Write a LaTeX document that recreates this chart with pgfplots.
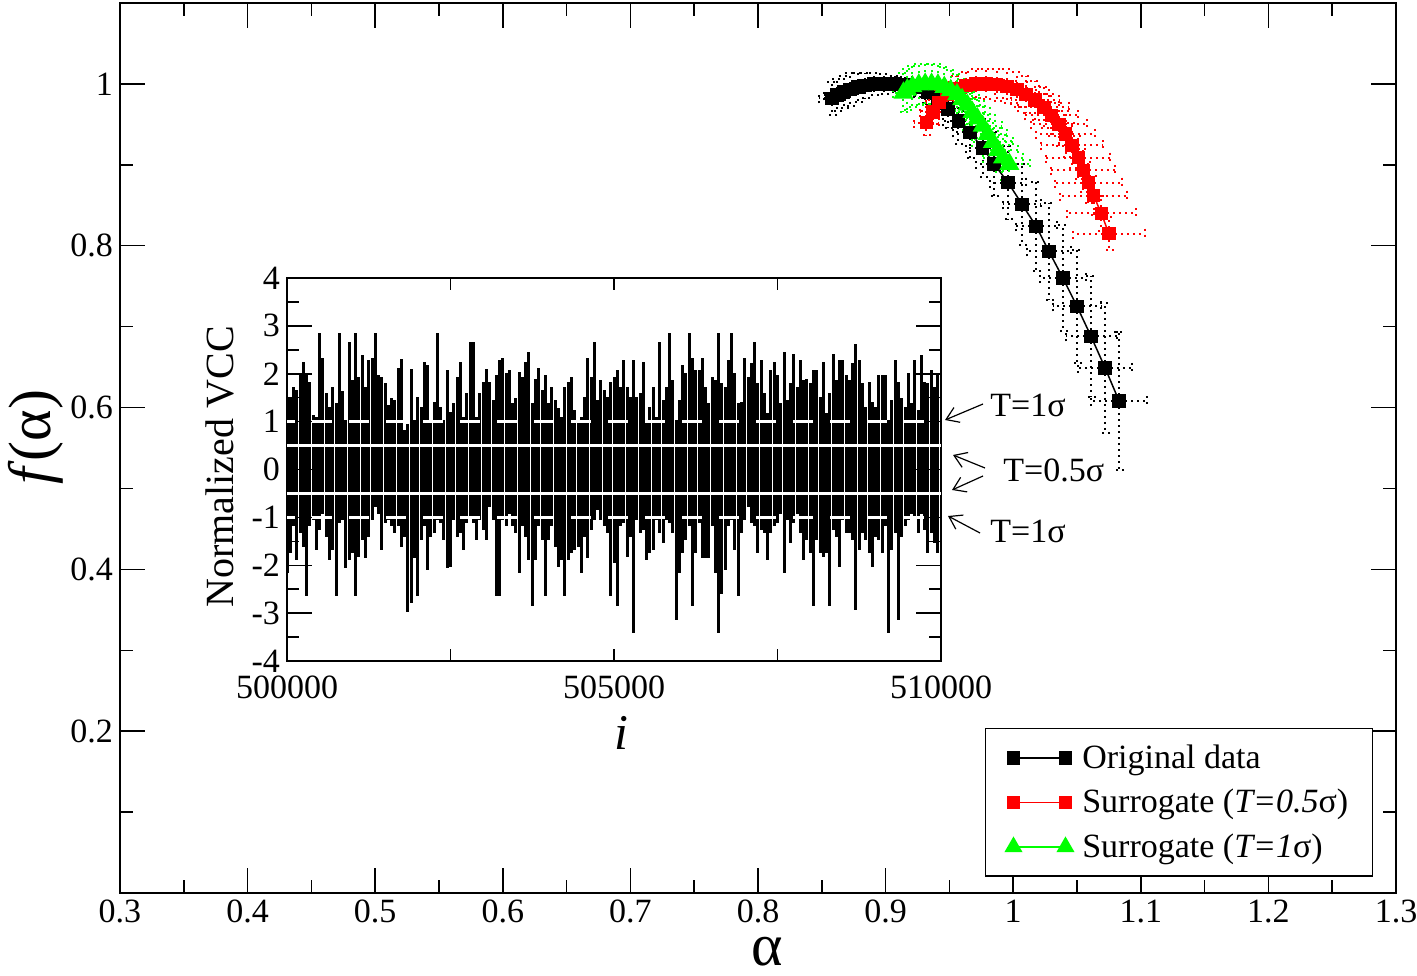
\documentclass[border=0pt]{standalone}
\usepackage{fontspec}
\setmainfont{Liberation Serif}
\usepackage{pgfplots}
\pgfplotsset{compat=1.18}
\usepackage{pgfplotstable}
\usetikzlibrary{arrows.meta}

\newcommand\tickfont{\fontsize{17}{20}\selectfont}

% multifractal spectra: alpha, f(alpha), errors
\pgfplotstableread{
a f ea ef
0.858 0.982 0.010 0.020
0.862 0.986 0.010 0.020
0.867 0.990 0.010 0.020
0.872 0.993 0.010 0.020
0.878 0.996 0.010 0.018
0.884 0.998 0.010 0.016
0.891 1.000 0.010 0.014
0.899 1.000 0.010 0.012
0.907 1.000 0.010 0.010
0.915 0.999 0.010 0.010
0.924 0.996 0.010 0.012
0.933 0.990 0.010 0.015
0.941 0.981 0.012 0.020
0.949 0.969 0.012 0.024
0.957 0.954 0.012 0.028
0.966 0.940 0.013 0.032
0.976 0.921 0.013 0.036
0.985 0.901 0.014 0.040
0.996 0.878 0.014 0.045
1.007 0.851 0.015 0.050
1.018 0.824 0.016 0.055
1.028 0.793 0.017 0.060
1.039 0.760 0.018 0.065
1.050 0.725 0.019 0.070
1.061 0.688 0.020 0.075
1.072 0.649 0.021 0.080
1.083 0.608 0.022 0.085
}\orig

\pgfplotstableread{
a f ea ef
0.932 0.952 0.010 0.015
0.937 0.965 0.010 0.015
0.942 0.977 0.010 0.015
0.948 0.987 0.011 0.015
0.955 0.994 0.012 0.016
0.963 0.998 0.012 0.017
0.971 1.000 0.013 0.018
0.979 1.000 0.014 0.019
0.987 0.999 0.015 0.020
0.995 0.997 0.016 0.021
1.003 0.993 0.017 0.022
1.010 0.987 0.018 0.023
1.017 0.980 0.019 0.024
1.024 0.971 0.020 0.025
1.030 0.961 0.021 0.026
1.036 0.950 0.022 0.027
1.041 0.938 0.023 0.028
1.046 0.924 0.024 0.028
1.051 0.909 0.025 0.027
1.055 0.893 0.025 0.026
1.059 0.878 0.026 0.025
1.063 0.862 0.026 0.024
1.069 0.840 0.027 0.022
1.075 0.815 0.028 0.020
}\surhalf

\pgfplotstableread{
a f ea ef
0.914 0.989 0.008 0.024
0.917 0.993 0.008 0.025
0.921 0.997 0.008 0.025
0.926 0.999 0.009 0.025
0.931 1.000 0.009 0.025
0.936 1.000 0.009 0.025
0.941 0.999 0.010 0.025
0.946 0.996 0.010 0.025
0.951 0.992 0.011 0.025
0.956 0.987 0.012 0.025
0.960 0.981 0.013 0.025
0.964 0.974 0.013 0.025
0.968 0.965 0.014 0.025
0.972 0.957 0.014 0.025
0.976 0.948 0.015 0.025
0.980 0.938 0.015 0.025
0.984 0.928 0.016 0.026
0.988 0.918 0.016 0.027
0.992 0.909 0.016 0.028
0.997 0.901 0.016 0.028
}\surone

% normalized VCC: upper and lower excursion per 50-sample block
\pgfplotstableread{
i up lo
500000 1.52 -2.17
500050 1.52 -1.75
500100 1.73 -1.19
500150 1.66 -1.89
500200 2.01 -1.33
500250 2.25 -1.61
500300 2.01 -2.65
500350 1.83 -1.19
500400 1.14 -1.05
500450 1.10 -1.68
500500 2.86 -1.26
500550 2.32 -0.92
500600 1.59 -1.40
500650 1.31 -1.89
500700 1.73 -1.68
500750 1.38 -2.65
500800 2.86 -1.12
500850 1.63 -1.05
500900 1.03 -2.06
500950 2.67 -1.89
501000 1.87 -1.75
501050 2.86 -2.65
501100 1.94 -1.82
501150 2.39 -1.47
501200 1.73 -1.85
501250 2.29 -1.40
501300 2.32 -1.05
501350 2.86 -0.78
501400 1.97 -0.92
501450 1.94 -1.68
501500 1.80 -1.12
501550 1.35 -1.05
501600 1.49 -1.19
501650 1.45 -1.33
501700 2.11 -1.19
501750 2.30 -1.61
501800 0.82 -1.40
501850 0.96 -2.97
501900 2.09 -2.79
501950 1.03 -1.85
502000 1.52 -2.65
502050 1.31 -1.47
502100 2.25 -1.19
502150 2.18 -2.10
502200 1.03 -1.40
502250 1.42 -1.33
502300 2.86 -1.05
502350 1.31 -1.12
502400 1.03 -1.47
502450 2.08 -2.06
502500 1.20 -2.03
502550 1.38 -1.05
502600 1.94 -1.40
502650 2.25 -1.33
502700 1.10 -1.68
502750 1.59 -1.12
502800 2.67 -0.98
502850 2.67 -1.12
502900 1.10 -1.47
502950 1.59 -1.05
503000 1.83 -1.26
503050 2.09 -1.47
503100 1.83 -0.78
503150 1.45 -1.05
503200 1.97 -2.65
503250 2.29 -2.65
503300 2.32 -1.05
503350 2.01 -1.19
503400 2.08 -0.92
503450 1.38 -1.19
503500 1.49 -1.33
503550 2.04 -2.17
503600 1.94 -1.19
503650 2.25 -1.40
503700 2.45 -1.89
503750 1.38 -2.86
503800 1.90 -1.89
503850 2.11 -1.19
503900 1.66 -1.47
503950 1.97 -2.65
504000 1.38 -1.47
504050 1.73 -1.19
504100 1.45 -1.61
504150 1.28 -2.03
504200 1.10 -1.89
504250 1.73 -2.65
504300 1.83 -1.89
504350 1.94 -1.75
504400 1.24 -1.68
504450 1.03 -1.61
504500 1.10 -2.17
504550 1.52 -1.40
504600 2.32 -1.85
504650 1.94 -1.26
504700 2.67 -1.05
504750 1.45 -0.85
504800 1.87 -1.05
504850 1.66 -1.19
504900 1.52 -1.33
504950 1.83 -2.65
505000 1.94 -1.96
505050 2.08 -2.86
505100 1.73 -1.19
505150 2.29 -1.12
505200 1.73 -1.82
505250 1.52 -1.40
505300 2.29 -3.42
505350 1.52 -1.05
505400 1.59 -1.33
505450 2.25 -1.26
505500 1.03 -1.89
505550 1.31 -1.75
505600 1.73 -1.68
505650 1.10 -1.05
505700 2.67 -1.33
505750 1.45 -1.54
505800 1.73 -1.05
505850 2.86 -1.12
505900 1.87 -1.33
505950 1.03 -3.14
506000 1.45 -2.17
506050 2.18 -1.75
506100 2.01 -1.47
506150 2.86 -1.19
506200 2.32 -2.86
506250 2.08 -1.75
506300 2.08 -1.12
506350 2.32 -1.85
506400 1.73 -1.85
506450 1.38 -1.85
506500 1.94 -1.19
506550 1.87 -2.17
506600 2.86 -3.42
506650 1.80 -2.60
506700 1.73 -2.10
506750 2.29 -1.19
506800 2.86 -1.05
506850 2.01 -1.68
506900 1.38 -2.65
506950 1.42 -1.33
507000 2.32 -1.05
507050 1.94 -0.78
507100 2.22 -1.12
507150 2.67 -1.19
507200 1.80 -1.75
507250 2.29 -1.26
507300 1.59 -1.33
507350 1.17 -1.89
507400 2.08 -1.33
507450 2.25 -1.19
507500 1.97 -1.12
507550 1.38 -0.92
507600 2.46 -2.17
507650 1.45 -1.05
507700 1.80 -1.54
507750 2.42 -1.12
507800 1.73 -0.92
507850 2.29 -1.33
507900 1.87 -1.89
507950 1.90 -1.47
508000 1.80 -1.75
508050 2.08 -2.86
508100 2.08 -1.47
508150 1.52 -1.75
508200 2.25 -1.82
508250 1.17 -1.75
508300 1.59 -2.86
508350 2.42 -1.26
508400 1.87 -1.40
508450 2.29 -2.03
508500 2.29 -1.05
508550 1.97 -1.33
508600 1.87 -1.33
508650 2.22 -1.47
508700 2.63 -2.93
508750 2.29 -1.68
508800 1.80 -1.33
508850 1.31 -1.47
508900 1.83 -1.75
508950 1.42 -2.03
509000 1.31 -1.40
509050 1.97 -1.47
509100 1.97 -1.75
509150 1.97 -1.19
509200 1.03 -3.42
509250 1.45 -1.68
509300 2.29 -1.33
509350 1.83 -3.14
509400 1.49 -1.40
509450 1.31 -1.19
509500 2.01 -1.05
509550 1.38 -0.92
509600 2.29 -0.98
509650 1.24 -1.33
509700 2.39 -0.92
509750 1.83 -1.26
509800 1.80 -1.75
509850 2.08 -1.33
509900 1.73 -1.54
509950 2.01 -1.75
}\vcc

\pgfplotsset{
  dotbars/.style={
    error bars/.cd,
      x dir=both, x explicit, y dir=both, y explicit,
      error bar style={#1, line width=1pt, dash pattern=on 1pt off 2pt},
      error mark options={rotate=90, mark size=2.5pt, #1, line width=1pt, dash pattern=on 1pt off 2pt}
  }
}

\begin{document}
\begin{tikzpicture}
\begin{axis}[
  at={(0pt,0pt)}, anchor=south west,
  scale only axis, width=638pt, height=445pt,
  xmin=0.3, xmax=1.3, ymin=0, ymax=1.1,
  xtick={0.3,0.4,0.5,0.6,0.7,0.8,0.9,1,1.1,1.2,1.3},
  minor xtick={0.35,0.45,0.55,0.65,0.75,0.85,0.95,1.05,1.15,1.25},
  ytick={0.2,0.4,0.6,0.8,1},
  minor ytick={0.1,0.3,0.5,0.7,0.9},
  tick align=inside,
  major tick length=12.5pt, minor tick length=6.5pt,
  tick style={black, line width=0.75pt},
  axis line style={line width=1pt},
  tick label style={font=\tickfont},
  /pgf/number format/assume math mode=true,
  xlabel={α}, ylabel={\textit{f}(α)},
  xlabel style={font=\fontsize{30}{34}\selectfont, inner sep=0pt, at={(axis description cs:0.507,-0.066)}, anchor=center},
  ylabel style={font=\fontsize{30}{34}\selectfont, inner sep=0pt, at={(axis description cs:-0.066,0.512)}, anchor=center},
  legend image code/.code={\draw[mark repeat=2, mark phase=1, #1] plot coordinates {(0pt,0pt) (13pt,0pt) (26pt,0pt)};},
  legend cell align=left,
  legend style={at={(rel axis cs:0.982,0.018)}, anchor=south east, draw=black, line width=0.75pt,
    fill=white, font=\tickfont, inner xsep=10pt, inner ysep=6pt, row sep=5pt, column sep=2.5pt},
]
\addlegendimage{black, line width=0.75pt, mark=square*, mark size=3pt, mark options={solid}}
\addlegendentry{Original data}
\addlegendimage{red, line width=0.75pt, mark=square*, mark size=3pt, mark options={solid}}
\addlegendentry{Surrogate (\textit{T=0.5}σ)}
\addlegendimage{green, line width=0.75pt, mark=triangle*, mark size=4.5pt, mark options={solid}}
\addlegendentry{Surrogate (\textit{T=1}σ)}

\addplot[forget plot, black, line width=0.75pt, mark=square*, mark size=3pt, mark options={solid},
  dotbars=black] table[x=a, y=f, x error=ea, y error=ef] {\orig};
\addplot[forget plot, red, line width=0.75pt, mark=square*, mark size=3pt, mark options={solid},
  dotbars=red] table[x=a, y=f, x error=ea, y error=ef] {\surhalf};
\addplot[forget plot, green, line width=0.75pt, mark=triangle*, mark size=5pt, mark options={solid},
  dotbars=green] table[x=a, y=f, x error=ea, y error=ef] {\surone};
\end{axis}

\begin{axis}[
  at={(83.5pt,116pt)}, anchor=south west,
  scale only axis, width=327pt, height=191.5pt,
  xmin=500000, xmax=510000, ymin=-4, ymax=4,
  axis background/.style={fill=white},
  xtick={500000,505000,510000}, xticklabels={500000,505000,510000},
  scaled x ticks=false,
  minor xtick={500000,502500,505000,507500,510000},
  major x tick style={draw=none},
  ytick={-4,-3,-2,-1,0,1,2,3,4}, minor y tick num=1,
  tick align=inside,
  major tick length=12.5pt, minor tick length=6pt,
  tick style={black, line width=0.75pt},
  axis line style={line width=1pt},
  tick label style={font=\tickfont},
  xticklabel style={yshift=-4pt},
  /pgf/number format/assume math mode=true,
  xlabel={\textit{i}}, ylabel={Normalized VCC},
  xlabel style={font=\fontsize{25}{30}\selectfont, at={(axis description cs:0.512,-0.188)}, anchor=center},
  ylabel style={font=\fontsize{20}{24}\selectfont, at={(axis description cs:-0.1024,0.507)}, anchor=center},
]
\addplot[black, ycomb, line width=1.5pt, mark=none] table[x=i, y=up] {\vcc};
\addplot[black, ycomb, line width=1.5pt, mark=none] table[x=i, y=lo] {\vcc};
% threshold levels
\addplot[white, line width=1.5pt] coordinates {(500000,0.5) (510000,0.5)};
\addplot[white, line width=1.5pt] coordinates {(500000,-0.5) (510000,-0.5)};
\addplot[white, line width=1.6pt, dash pattern=on 10pt off 8.5pt, dash phase=6pt] coordinates {(500000,1) (510000,1)};
\addplot[white, line width=1.6pt, dash pattern=on 10pt off 8.5pt, dash phase=6pt] coordinates {(500000,-1) (510000,-1)};
\end{axis}

% threshold annotations
\begin{scope}[line width=0.6pt, -{Straight Barb[length=6pt, width=8pt]}]
\draw (431.5pt,244.5pt) -- (412.5pt,236.5pt);
\draw (432.5pt,212.5pt) -- (416.5pt,219pt);
\draw (431.5pt,208.5pt) -- (416pt,201.5pt);
\draw (430pt,180pt) -- (414pt,188.5pt);
\end{scope}
\node[anchor=west, inner sep=0pt, font=\tickfont] at (435pt,244pt) {T=1σ};
\node[anchor=west, inner sep=0pt, font=\tickfont] at (441.5pt,211.5pt) {T=0.5σ};
\node[anchor=west, inner sep=0pt, font=\tickfont] at (435pt,181pt) {T=1σ};

\pgfresetboundingbox
\path[use as bounding box] (-60pt,-41pt) rectangle (648.5pt,446.5pt);
\end{tikzpicture}
\end{document}
